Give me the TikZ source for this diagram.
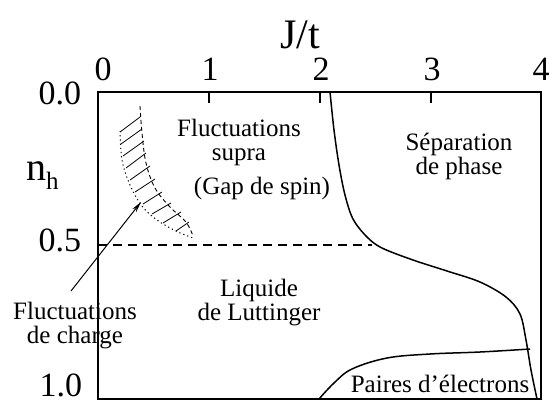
\documentclass[tikz,border=0pt]{standalone}
\usepackage{fontspec}
\setmainfont{Liberation Serif}
\usetikzlibrary{arrows.meta}
\newcommand\axf{\fontsize{34}{34}\selectfont}
\newcommand\lblf{\fontsize{25}{24}\selectfont}
\newcommand\ttlf{\fontsize{42}{42}\selectfont}
\begin{document}
\begin{tikzpicture}[x=1pt,y=-1pt,
  txt/.style={inner sep=0pt,outer sep=0pt,align=center,font=\lblf},
  axl/.style={inner sep=0pt,outer sep=0pt,font=\axf},
  frame/.style={line width=1.8pt},
  bnd/.style={line width=1.5pt},
  hatchline/.style={line width=0.8pt},
  ]
\useasboundingbox (0,0) rectangle (554,402);
% frame
\coordinate (tl) at (98,92);
\coordinate (br) at (541,399);
\draw[frame] (tl) rectangle (br);
% ticks on top axis
\foreach \xx/\nm in {209/a,320/b,431/c}{
  \coordinate (t\nm1) at (\xx,92);
  \coordinate (t\nm2) at (\xx,103);
  \draw[line width=1.2pt] (t\nm1) -- (t\nm2);
}
% tick labels
\node[axl,anchor=base] (x0) at (103,80) {0};
\node[axl,anchor=base] (x1) at (210,80) {1};
\node[axl,anchor=base] (x2) at (321,80) {2};
\node[axl,anchor=base] (x3) at (432,80) {3};
\node[axl,anchor=base] (x4) at (541,80) {4};
\node[inner sep=0pt,anchor=base,font=\ttlf] (jt) at (300,48) {J/t};
\node[axl,anchor=base east] (y0) at (81,104) {0.0};
\node[axl,anchor=base east] (y5) at (81,251) {0.5};
\node[axl,anchor=base east] (y10) at (82,396) {1.0};
\node[inner sep=0pt,anchor=base west] (nh) at (26,180)
  {\fontsize{40}{40}\selectfont n\raisebox{-9pt}{\fontsize{25}{25}\selectfont h}};
% dashed n=0.5 line
\coordinate (dA) at (98,244.5);
\coordinate (dB) at (372,244.5);
\draw[line width=2pt,dash pattern=on 9pt off 6pt] (dA) -- (dB);
% phase separation boundary
\draw[bnd] plot[smooth,tension=0.55] coordinates {
  (330,92) (334,130) (339,165) (345,195) (353,219) (367,237) (382,248)
  (413,260) (447,271) (480,282) (506,297) (520,314) (526,340) (531,370) (537,399)};
% electron pairs boundary
\draw[bnd] plot[smooth,tension=0.6] coordinates {
  (319,399) (334,383) (352,369) (387,358) (430,354) (480,352) (530,349)};
% hatched region: outer dashed, inner dotted
\draw[line width=0.9pt,dash pattern=on 4pt off 3pt] plot[smooth,tension=0.6] coordinates {
  (140,106) (142,133) (146,163) (155,188) (170,207) (186,222) (193,236)};
\draw[line width=1pt,dash pattern=on 1.2pt off 3pt] plot[smooth,tension=0.6] coordinates {
  (120,131) (122,160) (130,185) (142,206) (157,220) (176,231) (193,238)};
\foreach \ax/\ay/\bx/\by [count=\i] in {
  120/132/140/117, 121/144/142/129, 123/156/144/141, 126/168/146/153,
  130/180/150/166, 135/192/155/179, 143/204/162/192, 152/214/171/203,
  163/223/181/212, 176/231/189/222}{
  \coordinate (hA\i) at (\ax,\ay);
  \coordinate (hB\i) at (\bx,\by);
  \draw[hatchline] (hA\i) -- (hB\i);
}
% labels
\node[txt] (supra) at (239,142) {Fluctuations\\supra};
\node[txt] (gap) at (262,188) {(Gap de spin)};
\node[txt] (sep) at (459,156) {S\'eparation\\de phase};
\node[txt] (liq) at (259,303) {Liquide\\de Luttinger};
\node[txt] (charge) at (75,326) {Fluctuations\\de charge};
\node[txt] (pairs) at (440,384) {Paires d'\'electrons};
% arrow
\coordinate (arrS) at (71,291);
\coordinate (arrE) at (141,202);
\draw[line width=1pt,-{Stealth[length=11pt,width=5pt]}] (arrS) -- (arrE);
\end{tikzpicture}
\end{document}
